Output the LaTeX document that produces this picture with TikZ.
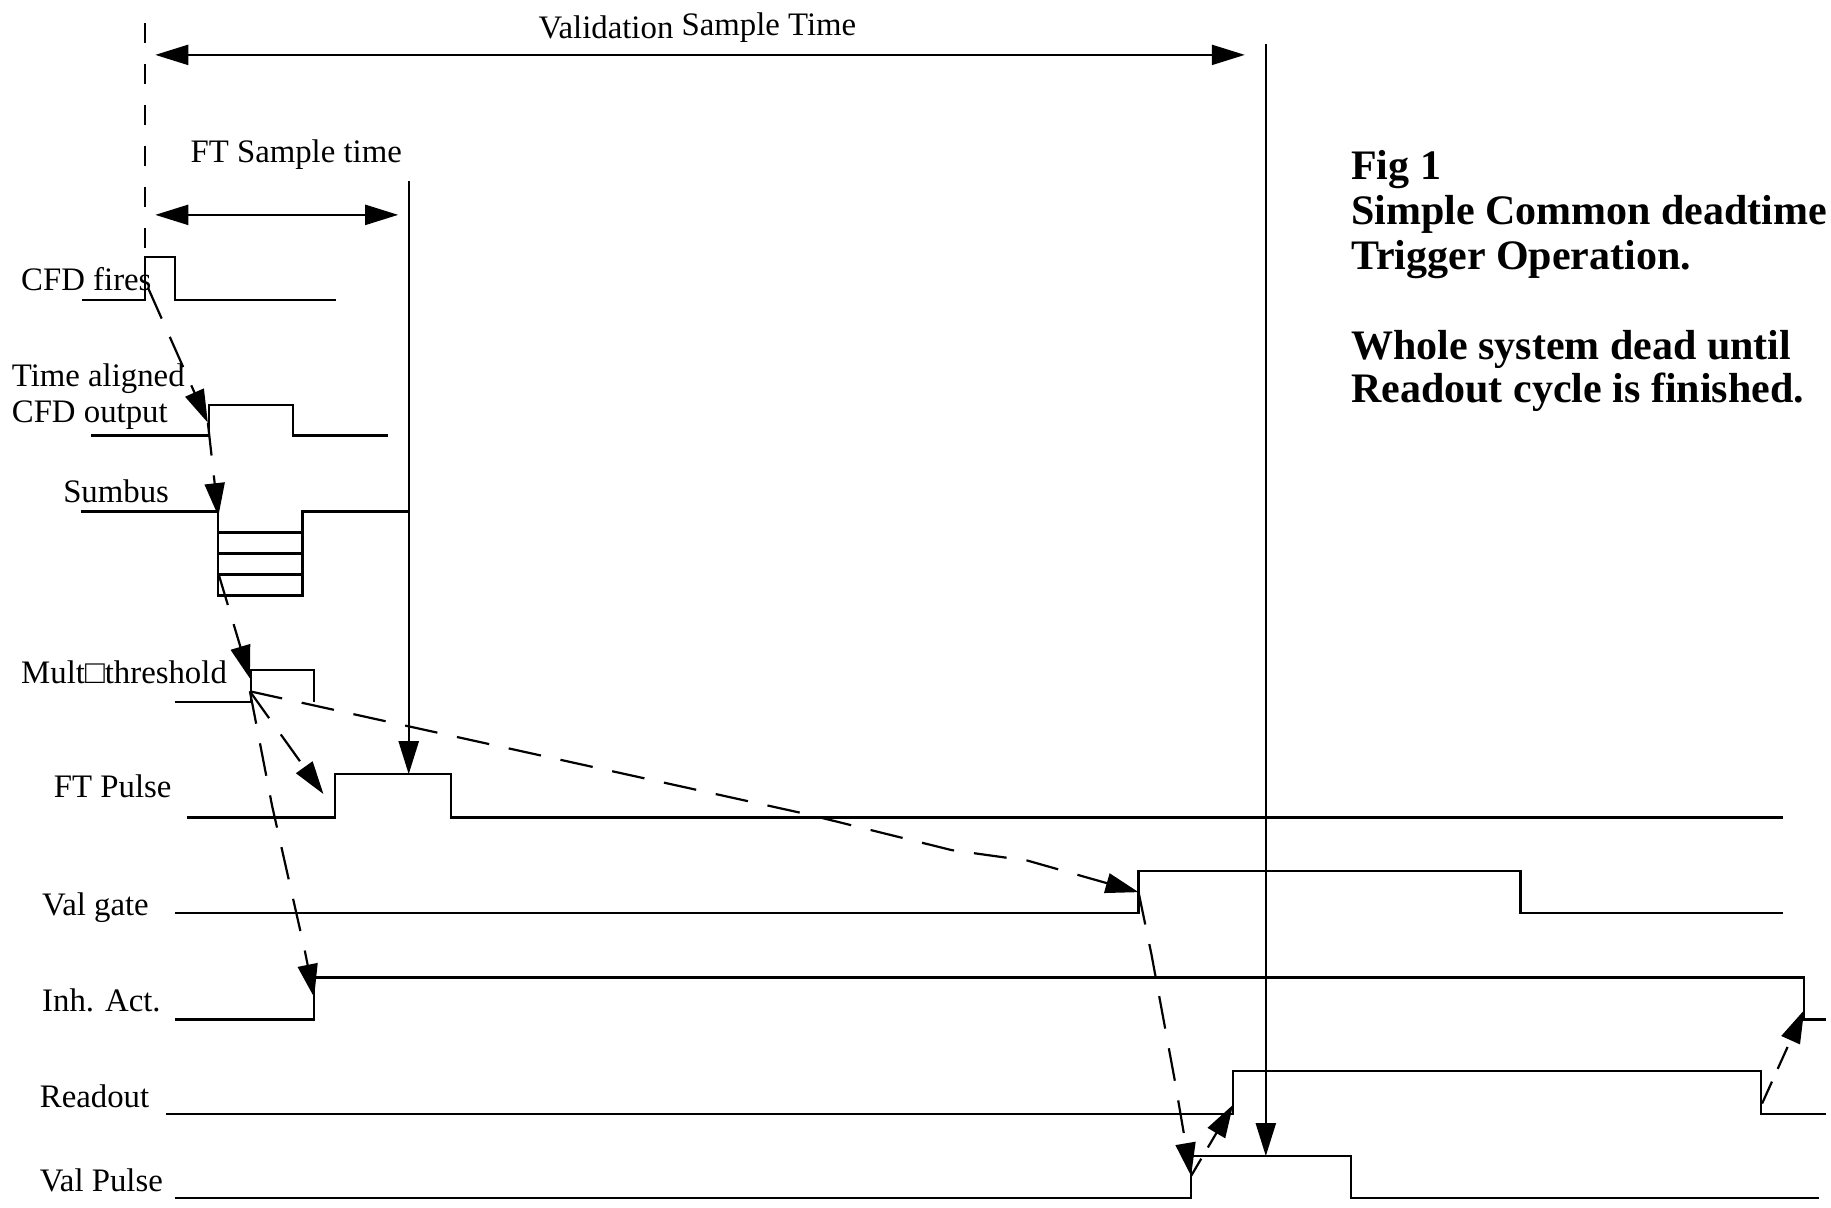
\documentclass[tikz,border=0pt]{standalone}
\usepackage{fontspec}
\setmainfont{Liberation Serif}
\usetikzlibrary{arrows.meta}
\tikzset{
  wave/.style={line width=2.2pt,line join=miter},
  guide/.style={line width=2.2pt},
  flow/.style={line width=2.2pt,dash pattern=on 33pt off 20pt,-{Triangle[length=33pt,width=20pt]}},
  solidarrow/.style={line width=2.2pt,-{Triangle[length=33pt,width=20pt]}},
  span/.style={line width=2.2pt,{Triangle[length=33pt,width=20pt]}-{Triangle[length=33pt,width=20pt]}},
  lab/.style={anchor=base west,inner sep=0pt,font=\fontsize{32.8}{38}\selectfont},
  head/.style={anchor=base west,inner sep=0pt,font=\fontsize{42}{48}\selectfont\bfseries},
}
\begin{document}
\begin{tikzpicture}[x=1.16773pt,y=-1.16773pt]
\useasboundingbox (0,0) rectangle (1568,1034);
% named points
\coordinate (cfdup) at (127,247);
\coordinate (alignT) at (178,362);
\coordinate (sumT) at (187,442);
\coordinate (sumB) at (187,491);
\coordinate (multT) at (214,581);
\coordinate (multO) at (214,592);
\coordinate (ftT) at (277,680);
\coordinate (gateT) at (975,764);
\coordinate (inhT) at (269,854);
\coordinate (pulseT) at (1020,1007);
\coordinate (roT) at (1056,946);
\coordinate (roD) at (1509,945);
\coordinate (inhD) at (1545,865);
\coordinate (valTop) at (1084,38);
\coordinate (valEnd) at (1084,990);
\coordinate (ftTop) at (350,155);
\coordinate (ftEnd) at (350,663);
\coordinate (spanA) at (133,47);
\coordinate (spanB) at (1066,47);
\coordinate (spanC) at (133,184);
\coordinate (spanD) at (341,184);
% waveforms
\draw[wave] (70,257)--(124,257)--(124,220)--(150,220)--(150,257)--(288,257);
\draw[wave] (78,373)--(179,373)--(179,347)--(251,347)--(251,373)--(332,373);
\draw[wave] (69,438)--(187,438)--(187,510)--(259,510)--(259,438)--(350,438);
\draw[wave] (187,456)--(259,456) (187,474)--(259,474) (187,492)--(259,492);
\draw[wave] (150,601)--(215,601)--(215,574)--(269,574)--(269,601);
\draw[wave] (160,700)--(287,700)--(287,663)--(386,663)--(386,700)--(1527,700);
\draw[wave] (150,782)--(975,782)--(975,746)--(1302,746)--(1302,782)--(1527,782);
\draw[wave] (150,873)--(269,873)--(269,837)--(1545,837)--(1545,873)--(1564,873);
\draw[wave] (142,954)--(1056,954)--(1056,917)--(1508,917)--(1508,954)--(1564,954);
\draw[wave] (150,1026)--(1020,1026)--(1020,990)--(1157,990)--(1157,1026)--(1558,1026);
% guides and spans
\draw[guide,dash pattern=on 20pt off 21pt] (124,20)--(124,257);
\draw[span] (spanA)--(spanB);
\draw[span] (spanC)--(spanD);
\draw[solidarrow] (valTop)--(valEnd);
\draw[solidarrow] (ftTop)--(ftEnd);
% causal arrows
\draw[flow] (cfdup)--(alignT);
\draw[flow] (alignT)--(sumT);
\draw[flow] (sumB)--(multT);
\draw[flow] (multO)--(ftT);
\draw[flow] (multO)--(233,690)--(261,814)--(inhT);
\draw[flow] (multO)--(690,697)--(815,728)--(880,737)--(gateT);
\draw[flow] (gateT)--(986,817)--(1006,925)--(pulseT);
\draw[flow,dash pattern=on 20pt off 13pt] (pulseT)--(roT);
\draw[flow,dash pattern=on 24pt off 14pt] (roD)--(inhD);
% labels
\node[lab] (l1) at (18,249) {CFD fires};
\node[lab] (l2) at (10,331) {Time aligned};
\node[lab] (l3) at (10,362) {CFD output};
\node[lab] (l4) at (54,430) {Sumbus};
\node[lab] (l5) at (18,585) {Mult□threshold};
\node[lab] (l6) at (46,683) {FT Pulse};
\node[lab] (l7) at (36,784) {Val gate};
\node[lab] (l8) at (36,866) {Inh. Act.};
\node[lab] (l9) at (34,948) {Readout};
\node[lab] (l10) at (34,1020) {Val Pulse};
\node[lab] (l11) at (163,139.5) {FT Sample time};
\node[lab] (l12) at (461,33) {Validation \raisebox{3pt}{Sample Time}};
\node[head] (h1) at (1157,154) {Fig 1};
\node[head] (h2) at (1157,192.5) {Simple Common deadtime};
\node[head] (h3) at (1157,230.5) {Trigger Operation.};
\node[head] (h4) at (1157,307.5) {Whole system dead until};
\node[head] (h5) at (1157,345) {Readout cycle is finished.};
\end{tikzpicture}
\end{document}
